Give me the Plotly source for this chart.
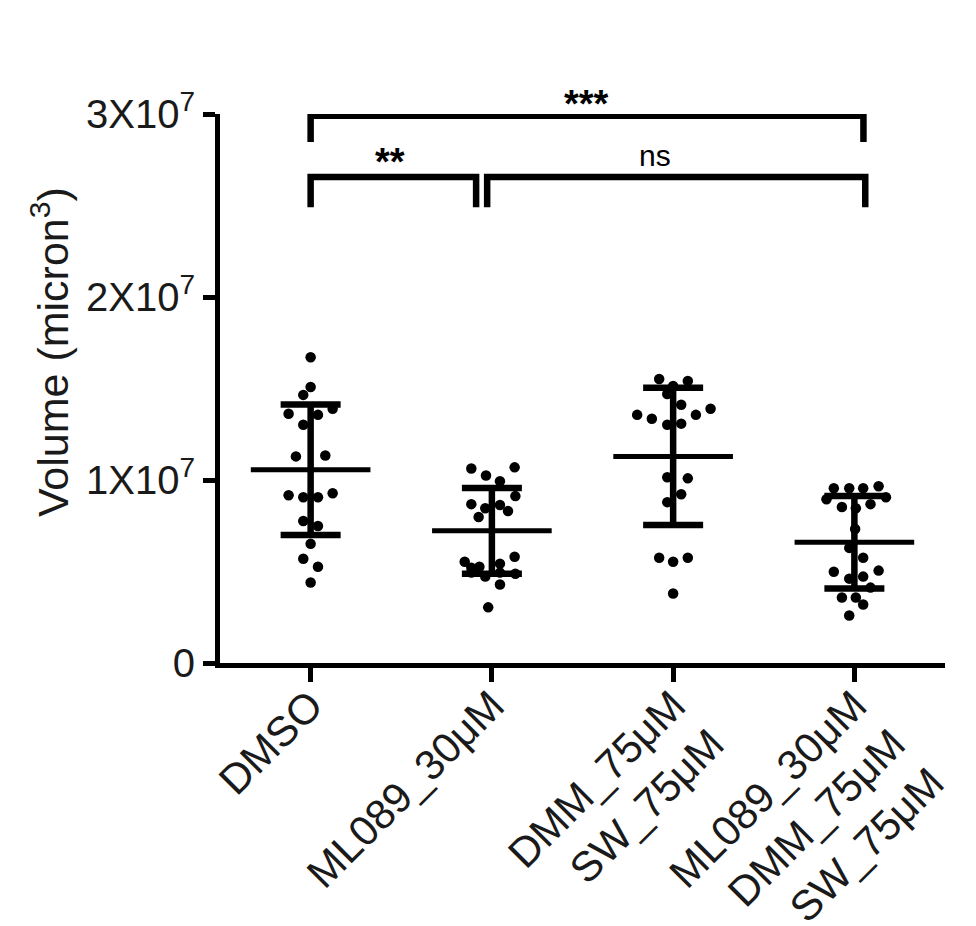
import plotly.graph_objects as go

categories = ["DMSO", "ML089_30μM", "DMM_75μM<br>SW_75μM", "ML089_30μM<br>DMM_75μM<br>SW_75μM"]

vals_dmso = [1.671e7, 1.508e7, 1.465e7, 1.362e7, 1.356e7, 1.389e7, 1.302e7, 1.129e7, 1.134e7,
             0.917e7, 0.906e7, 0.906e7, 0.928e7, 0.776e7, 0.749e7, 0.651e7, 0.570e7, 0.526e7, 0.440e7]
jit_dmso = [0, 0, -1, -3, 1, 3, -1, -2, 2, -3, -1, 1, 3, -1, 1, 0, -1, 1, 0]

vals_ml089 = [1.063e7, 1.069e7, 1.025e7, 0.993e7, 0.912e7, 0.868e7, 0.846e7, 0.863e7, 0.830e7,
              0.798e7, 0.553e7, 0.521e7, 0.526e7, 0.543e7, 0.581e7, 0.494e7, 0.472e7, 0.494e7,
              0.488e7, 0.429e7, 0.304e7]
jit_ml089 = [-2.8, 3.1, -0.8, 1.1, 3.2, -2.8, -0.9, 1.1, 2.2, -1.8, -3.7, -2.8, -1.7, 1.1, 3.1,
             -2.8, -0.9, 1.1, 3.2, 1.1, -0.5]

vals_dmm_sw = [1.552e7, 1.541e7, 1.514e7, 1.470e7, 1.411e7, 1.389e7, 1.356e7, 1.335e7, 1.356e7,
               1.302e7, 1.308e7, 1.015e7, 1.009e7, 0.922e7, 0.879e7, 0.575e7, 0.553e7, 0.575e7, 0.380e7]
jit_dmm_sw = [-1.9, 2.0, 0, -0.8, 1.1, 5.1, -4.9, -2.9, 3.1, -0.8, 1.1, -0.8, 2.0, 1.1, -0.8,
              -1.9, 0, 2.0, 0]

vals_combo = [0.955e7, 0.955e7, 0.955e7, 0.966e7, 0.895e7, 0.906e7, 0.852e7, 0.846e7, 0.868e7,
              0.732e7, 0.629e7, 0.575e7, 0.499e7, 0.505e7, 0.461e7, 0.472e7, 0.412e7, 0.358e7,
              0.358e7, 0.320e7, 0.260e7]
jit_combo = [-2.8, -0.7, 1.2, 3.3, -3.8, 4.3, -1.7, 0.2, 2.2, 0.1, -0.7, 1.2, -2.8, 3.3, -0.7,
             1.2, 2.2, -1.7, 0.2, 1.2, -0.7]

means = [1.056e7, 0.722e7, 1.129e7, 0.660e7]
sds = [0.356e7, 0.234e7, 0.375e7, 0.253e7]

y_tickvals = [0, 1e7, 2e7, 3e7]
y_ticktext = ["0", "1X10<sup>7</sup>", "2X10<sup>7</sup>", "3X10<sup>7</sup>"]

# significance brackets: (left x, right x, height, leg bottom, label, label x)
brackets = [
    (0.0, 3.05, 2.99e7, 2.847e7, "***", 1.52),
    (0.0, 0.913, 2.656e7, 2.49e7, "**", 0.44),
    (0.974, 3.06, 2.656e7, 2.49e7, "ns", 1.9),
]

FONT = "Liberation Sans, Arial, sans-serif"
groups = [vals_dmso, vals_ml089, vals_dmm_sw, vals_combo]
jitters = [jit_dmso, jit_ml089, jit_dmm_sw, jit_combo]
JSTEP = 0.0405
MEAN_HALF = 0.33

fig = go.Figure()

for i, (vals, jit) in enumerate(zip(groups, jitters)):
    fig.add_trace(go.Scatter(
        x=[i - MEAN_HALF, i + MEAN_HALF], y=[means[i], means[i]], mode="lines",
        line=dict(color="black", width=5), showlegend=False, hoverinfo="skip"))
    fig.add_trace(go.Scatter(
        x=[i], y=[means[i]], mode="markers", marker=dict(size=1, color="rgba(0,0,0,0)"),
        error_y=dict(type="data", array=[sds[i]], visible=True, color="black",
                     thickness=6.5, width=30),
        showlegend=False, hoverinfo="skip"))
    fig.add_trace(go.Scatter(
        x=[i + j * JSTEP for j in jit], y=vals, mode="markers",
        marker=dict(size=10.5, color="black"), showlegend=False))

annotations = []
shifts = {"***": -11, "**": -8, "ns": 3}
for (a, b, h, lo, lab, lx) in brackets:
    fig.add_trace(go.Scatter(
        x=[a, a, b, b], y=[lo, h, h, lo], mode="lines",
        line=dict(color="black", width=6.5), showlegend=False, hoverinfo="skip"))
    bold = lab != "ns"
    annotations.append(dict(
        x=lx, y=h, xref="x", yref="y",
        text=("<b>%s</b>" % lab) if bold else lab, showarrow=False,
        yanchor="bottom", yshift=shifts[lab],
        font=dict(family=FONT, size=(38 if bold else 30), color="black")))

annotations.append(dict(
    text="Volume (micron<sup>3</sup>)", textangle=-90, showarrow=False,
    xref="paper", yref="paper", x=-0.2345, y=0.5665, xanchor="center", yanchor="middle",
    font=dict(family=FONT, size=43, color="#1a1a1a")))

fig.update_layout(
    width=976, height=926,
    margin=dict(l=212, r=39, t=106, b=271),
    paper_bgcolor="white", plot_bgcolor="white",
    font=dict(family=FONT, color="#1a1a1a"),
    annotations=annotations,
    xaxis=dict(
        range=[-0.5, 3.5], tickmode="array", tickvals=[0, 1, 2, 3], ticktext=categories,
        tickangle=-45, ticks="outside", ticklen=14, tickwidth=4.5, tickcolor="black",
        showline=True, linewidth=5, linecolor="black", showgrid=False, zeroline=False,
        ticklabelstandoff=-18,
        tickfont=dict(family=FONT, size=42, color="#1a1a1a"), automargin=False),
    yaxis=dict(
        range=[0, 3e7], tickmode="array", tickvals=y_tickvals, ticktext=y_ticktext,
        ticks="outside", ticklen=12, tickwidth=4.5, tickcolor="black",
        showline=True, linewidth=5, linecolor="black", showgrid=False, zeroline=False,
        tickfont=dict(family=FONT, size=40, color="#1a1a1a"), automargin=False),
)

fig.write_html("out.html")
